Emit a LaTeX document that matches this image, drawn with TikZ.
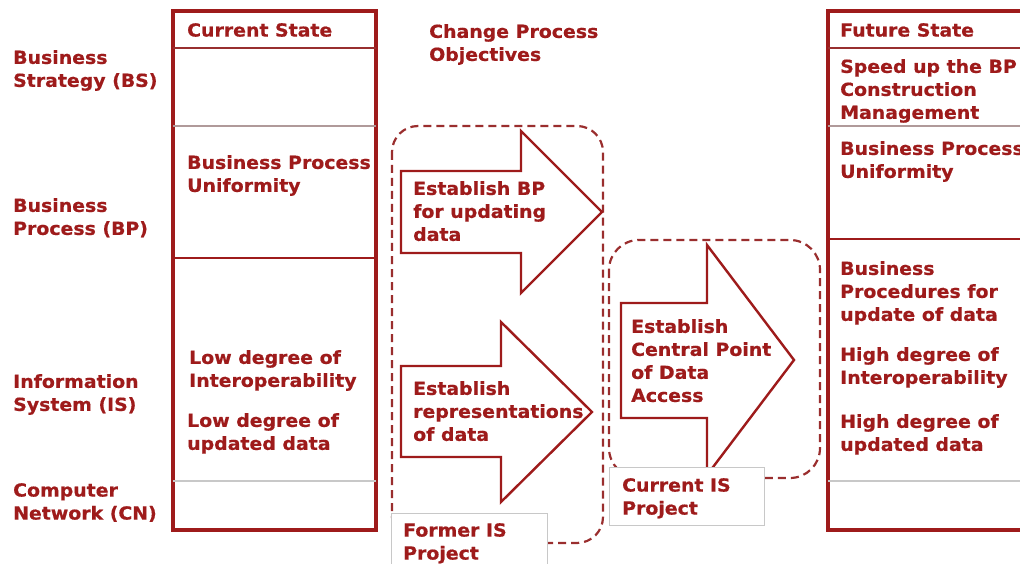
\documentclass[tikz,border=0pt]{standalone}
\usepackage{fontspec}
\setmainfont{DejaVu Sans}[BoldFeatures={FakeStretch=1.05,FakeBold=0.6}]
\definecolor{dred}{HTML}{9E1B1B}
\definecolor{dashred}{HTML}{9A2E2E}
\definecolor{lgray}{HTML}{C8C8C8}
\definecolor{divgray}{HTML}{B09A9A}
\begin{document}
\begin{tikzpicture}[x=1pt,y=-1pt,
  txt/.style={anchor=north west,align=left,inner sep=0pt,text=dred,font=\fontsize{18}{23}\selectfont\bfseries},
  frame/.style={draw=dred,line width=3.2pt},
  divider/.style={draw=#1,line width=1.4pt},
  objbox/.style={draw=dashred,line width=2.2pt,dash pattern=on 8pt off 5pt,rounded corners=26pt},
  bigarrow/.style={draw=dred,fill=white,line width=2.4pt,line join=miter},
  tag/.style={draw=lgray,fill=white,line width=1pt}]
\useasboundingbox (0,0) rectangle (1020,564);
\clip (0,0) rectangle (1020,564);
% current state column
\draw[frame] (173,11) rectangle (376,530);
\draw[divider=dred!80!gray] (173,48) -- (376,48);
\draw[divider=divgray] (173,126) -- (376,126);
\draw[divider=dred] (173,258) -- (376,258);
\draw[divider=lgray] (173,481) -- (376,481);
% future state column
\draw[frame] (828,11) rectangle (1030,530);
\draw[divider=dred!80!gray] (828,48) -- (1030,48);
\draw[divider=divgray] (828,126) -- (1030,126);
\draw[divider=dred] (828,239) -- (1030,239);
\draw[divider=lgray] (828,481) -- (1030,481);
% dashed project boxes
\draw[objbox] (392,126) rectangle (603,543);
\draw[objbox,rounded corners=30pt] (609,240) rectangle (820,478);
% arrows
\draw[bigarrow] (401,171) -- (521,171) -- (521,131) -- (602,212) -- (521,293) -- (521,253) -- (401,253) -- cycle;
\draw[bigarrow] (401,366) -- (501,366) -- (501,322) -- (592,412) -- (501,502) -- (501,457) -- (401,457) -- cycle;
\draw[bigarrow] (621,303) -- (707,303) -- (707,245) -- (794,360) -- (707,475) -- (707,418) -- (621,418) -- cycle;
% project tags
\draw[tag] (391,513) rectangle (547,570);
\draw[tag] (609,467) rectangle (764,525);
% row labels
\node[txt] (bs) at (13,50) {Business\\Strategy (BS)};
\node[txt] (bp) at (13,198) {Business\\Process (BP)};
\node[txt] (is) at (13,374) {Information\\System (IS)};
\node[txt] (cn) at (13,483) {Computer\\Network (CN)};
% current state texts
\node[txt] (cs) at (187,23) {Current State};
\node[txt] (csbp) at (187,155) {Business Process\\Uniformity};
\node[txt] (csint) at (189,350) {Low degree of\\Interoperability};
\node[txt] (csupd) at (187,413) {Low degree of\\updated data};
% objectives
\node[txt] (cpo) at (429,24) {Change Process\\Objectives};
\node[txt] (a1) at (413,181) {Establish BP\\for updating\\data};
\node[txt] (a2) at (413,381) {Establish\\representations\\of data};
\node[txt] (a3) at (631,319) {Establish\\Central Point\\of Data\\Access};
\node[txt] (former) at (403,523) {Former IS\\Project};
\node[txt] (current) at (622,478) {Current IS\\Project};
% future state texts
\node[txt] (fs) at (840,23) {Future State};
\node[txt] (fsspeed) at (840,59) {Speed up the BP\\Construction\\Management};
\node[txt] (fsbp) at (840,141) {Business Process\\Uniformity};
\node[txt] (fsproc) at (840,261) {Business\\Procedures for\\update of data};
\node[txt] (fsint) at (840,347) {High degree of\\Interoperability};
\node[txt] (fsupd) at (840,414) {High degree of\\updated data};
\end{tikzpicture}
\end{document}
